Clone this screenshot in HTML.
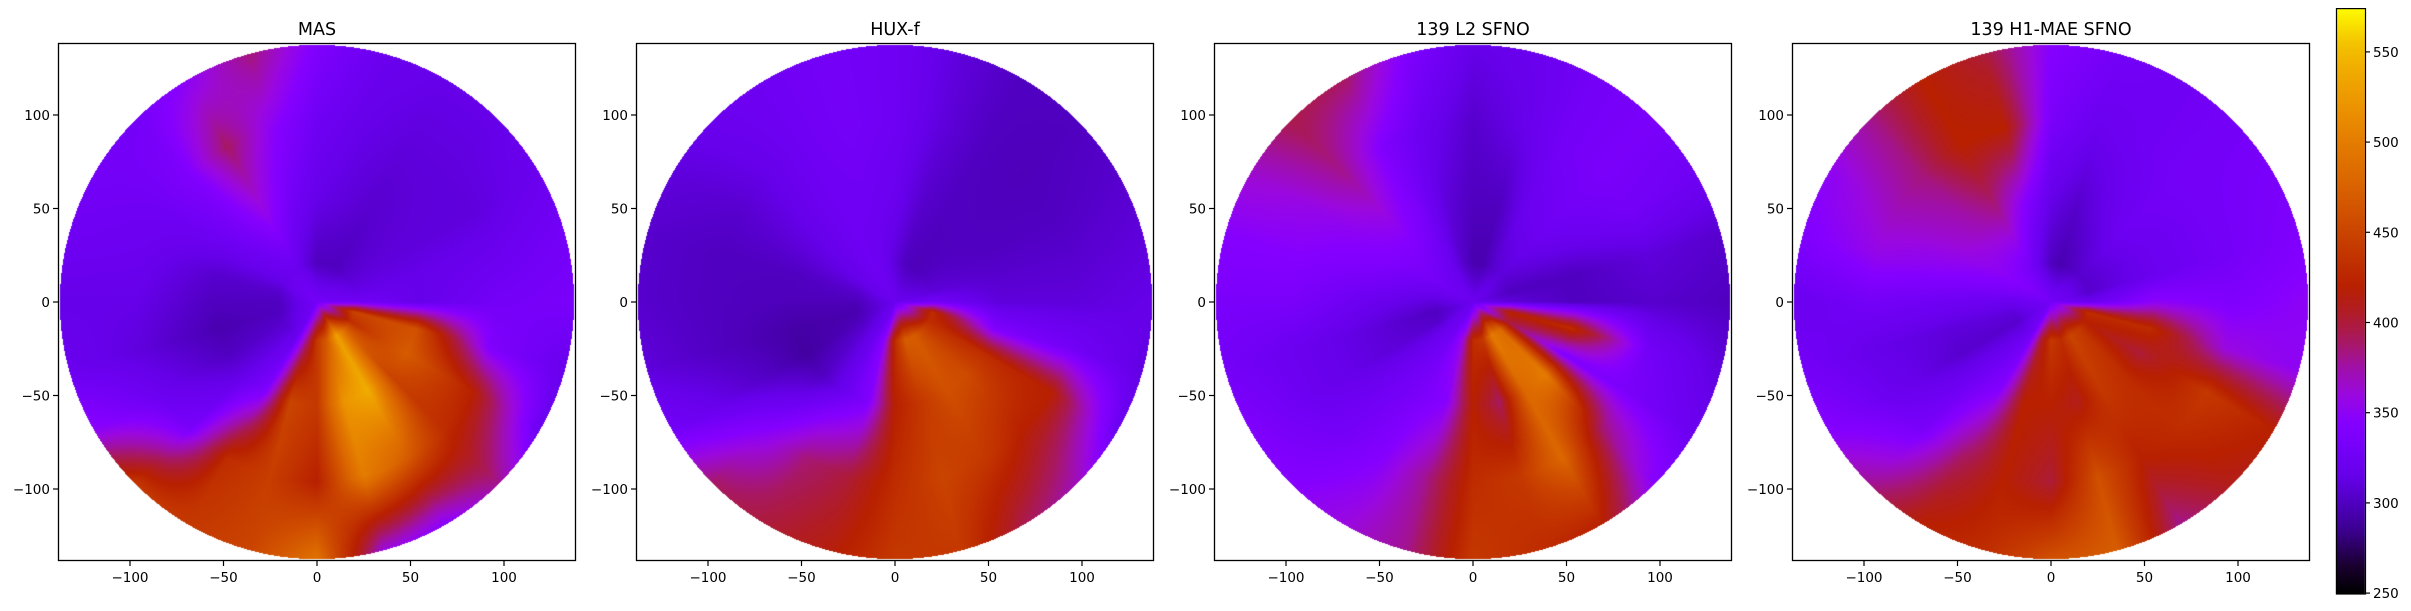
<!DOCTYPE html>
<html><head><meta charset="utf-8">
<style>
html,body{margin:0;padding:0;background:#fff;}
#fig{position:relative;width:2411px;height:611px;overflow:hidden;font-family:"DejaVu Sans","Liberation Sans",sans-serif;}
canvas{position:absolute;left:0;top:0;}
svg{position:absolute;left:0;top:0;}
</style></head>
<body>
<div id="fig">
<canvas id="cv" width="2411" height="611"></canvas>
<svg id="sv" width="2411" height="611"></svg>
</div>
<script>
// ---- data ----
const panelTitles = ["MAS","HUX-f","139 L2 SFNO","139 H1-MAE SFNO"];
const angleDeg = [0,15,30,45,60,75,90,105,120,135,150,165,180,195,210,225,240,255,270,285,300,315,330,345];
const ringFrac = [0.15,0.4,0.7,1.0];
const xTicks = [-100,-50,0,50,100];
const yTicks = [-100,-50,0,50,100];
const cbarTicks = [250,300,350,400,450,500,550];
const centerVals = [330,320,320,330];
const masR1 = [330,315,310,305,300,300,300,310,320,320,315,305,300,300,305,310,320,380,440,470,530,480,430,450];
const masR2 = [315,315,310,308,305,310,315,330,355,335,320,305,300,295,300,315,340,450,440,520,540,450,470,460];
const masR3 = [330,320,310,310,310,315,325,350,390,340,325,320,315,310,320,335,430,445,420,500,470,430,420,340];
const masR4 = [335,330,320,315,315,320,340,385,350,330,330,325,315,320,350,440,440,450,490,360,345,380,320,318];
const huxR1 = [330,310,305,300,298,300,310,320,325,320,315,305,298,295,300,310,320,350,430,470,470,450,430,430];
const huxR2 = [310,305,300,300,300,305,320,325,325,318,310,300,298,292,290,300,320,340,420,440,460,455,430,340];
const huxR3 = [310,305,300,298,300,310,325,330,325,315,305,300,300,300,310,345,385,400,430,450,440,420,420,330];
const huxR4 = [315,310,305,300,300,310,325,330,325,320,310,305,305,310,330,390,400,415,440,440,395,370,320,312];
const l2R1 = [310,300,305,310,305,295,295,305,320,325,330,320,310,300,305,320,330,360,430,440,500,480,400,420];
const l2R2 = [300,300,315,325,320,300,300,310,335,350,345,335,320,310,310,325,335,345,420,390,480,500,340,430];
const l2R3 = [305,310,330,335,330,315,305,320,340,380,355,345,335,320,320,330,345,380,430,440,480,390,335,330];
const l2R4 = [300,305,325,335,330,320,315,340,390,395,365,345,335,330,340,345,360,380,440,430,420,345,320,310];
const h1R1 = [320,305,305,305,300,295,300,315,330,340,345,335,320,310,305,315,330,400,440,430,450,440,420,430];
const h1R2 = [350,320,320,325,315,305,315,345,380,370,360,345,325,310,305,325,345,420,420,410,440,430,400,430];
const h1R3 = [340,330,330,330,325,320,335,420,420,385,370,355,330,315,320,335,390,420,400,460,420,430,440,360];
const h1R4 = [350,340,335,330,325,330,345,400,420,380,350,340,320,330,345,380,420,430,460,470,380,410,420,350];
const panelRings = [[masR1,masR2,masR3,masR4],[huxR1,huxR2,huxR3,huxR4],[l2R1,l2R2,l2R3,l2R4],[h1R1,h1R2,h1R3,h1R4]];
// colormap stops (value, colour) sampled from colorbar
const cmapVals = [250,265,285,300,315,330,345,360,375,390,405,420,440,460,480,500,520,540,555,575];
const cmapCols = ["#000000","#1a0030","#3c0090","#5000c0","#6600ea","#7400f8","#8600ff","#9a08e0","#a010a8","#a81860","#b01c28","#b82000","#c43800","#d05000","#dc6800","#e47c00","#ec9400","#f0ac00","#f4c400","#ffff00"];

// ---- layout ----
const panelLeft = [58,636,1214,1792];
const axTop = 43, axSize = 518, halfRange = 138.5, radius = 137.5;
const pxPerUnit = axSize/(2*halfRange);
const cbX = 2336, cbW = 29, cbTop = 8.6, cbBot = 594, vMin = 249.5, vMax = 574;

function hex(c){return [parseInt(c.substr(1,2),16),parseInt(c.substr(3,2),16),parseInt(c.substr(5,2),16)];}
const cmapRGB = cmapCols.map(hex);
function cmap(v){
  if(v<=cmapVals[0]) return cmapRGB[0];
  for(let i=1;i<cmapVals.length;i++){
    if(v<=cmapVals[i]){const t=(v-cmapVals[i-1])/(cmapVals[i]-cmapVals[i-1]);const a=cmapRGB[i-1],b=cmapRGB[i];
      return [a[0]+(b[0]-a[0])*t,a[1]+(b[1]-a[1])*t,a[2]+(b[2]-a[2])*t];}
  }
  return cmapRGB[cmapRGB.length-1];
}
function fieldValue(p, rf, th){
  const rings = panelRings[p];
  const n = angleDeg.length, step = 360/n;
  const fi = th/step; const i0 = Math.floor(fi)%n, i1=(i0+1)%n, ta = fi-Math.floor(fi);
  const ringVal = k => rings[k][i0]*(1-ta)+rings[k][i1]*ta;
  if(rf<=ringFrac[0]){const t=rf/ringFrac[0];return centerVals[p]*(1-t)+ringVal(0)*t;}
  for(let k=1;k<ringFrac.length;k++){
    if(rf<=ringFrac[k]){const t=(rf-ringFrac[k-1])/(ringFrac[k]-ringFrac[k-1]);return ringVal(k-1)*(1-t)+ringVal(k)*t;}
  }
  return ringVal(ringFrac.length-1);
}
const cv = document.getElementById('cv'); const ctx = cv.getContext('2d');
const img = ctx.createImageData(2411,611); const d = img.data;
for(let i=0;i<d.length;i+=4){d[i]=255;d[i+1]=255;d[i+2]=255;d[i+3]=255;}
for(let p=0;p<4;p++){
  const cx = panelLeft[p]+axSize/2, cy = axTop+axSize/2;
  for(let y=axTop;y<axTop+axSize;y++){
    for(let x=panelLeft[p];x<panelLeft[p]+axSize;x++){
      const ux=(x+0.5-cx)/pxPerUnit, uy=(cy-(y+0.5))/pxPerUnit;
      const r=Math.sqrt(ux*ux+uy*uy); if(r>radius) continue;
      let th=Math.atan2(uy,ux)*180/Math.PI; if(th<0) th+=360;
      const c=cmap(fieldValue(p,r/radius,th));
      const o=(y*2411+x)*4; d[o]=c[0];d[o+1]=c[1];d[o+2]=c[2];
    }
  }
}
// colorbar
for(let y=Math.round(cbTop);y<cbBot;y++){
  const v = vMax-(y+0.5-cbTop)/(cbBot-cbTop)*(vMax-vMin);
  const c=cmap(v);
  for(let x=cbX;x<cbX+cbW;x++){const o=(y*2411+x)*4;d[o]=c[0];d[o+1]=c[1];d[o+2]=c[2];}
}
ctx.putImageData(img,0,0);

// ---- axes (SVG) ----
const NS="http://www.w3.org/2000/svg"; const sv=document.getElementById('sv');
function mk(tag,attrs,parent){const e=document.createElementNS(NS,tag);for(const k in attrs)e.setAttribute(k,attrs[k]);(parent||sv).appendChild(e);return e;}
function fmt(v){return v<0?"\u2212"+(-v):String(v);}
for(let p=0;p<4;p++){
  const g=mk('g',{});
  
  
  const L=panelLeft[p], cx=L+axSize/2, cy=axTop+axSize/2;
  const fr=mk('rect',{x:L+0.5,y:axTop+0.5,width:axSize-1,height:axSize-1,fill:'none',stroke:'#000','stroke-width':1.3},g);
  
  
  const t=mk('text',{x:cx,y:35,'text-anchor':'middle','font-size':17.5,fill:'#000'},g);
  t.textContent=panelTitles[p];
  
  
  xTicks.forEach(v=>{
    const x=cx+v*pxPerUnit;
    const tk=mk('line',{x1:x,x2:x,y1:axTop+axSize,y2:axTop+axSize+5,stroke:'#000','stroke-width':1.2},g);
    
    
    const lb=mk('text',{x:x,y:582,'text-anchor':'middle','font-size':13.5,fill:'#000'},g);
    lb.textContent=fmt(v);
    
    
  });
  yTicks.forEach(v=>{
    const y=cy-v*pxPerUnit;
    const tk=mk('line',{x1:L-5,x2:L,y1:y,y2:y,stroke:'#000','stroke-width':1.2},g);
    
    
    const lb=mk('text',{x:L-8,y:y+5,'text-anchor':'end','font-size':13.5,fill:'#000'},g);
    lb.textContent=fmt(v);
    
    
  });
}
const cg=mk('g',{});


const cbf=mk('rect',{x:cbX+0.5,y:cbTop,width:cbW,height:cbBot-cbTop,fill:'none',stroke:'#000','stroke-width':1.2},cg);


cbarTicks.forEach(v=>{
  const y=cbBot-(v-vMin)/(vMax-vMin)*(cbBot-cbTop);
  const tk=mk('line',{x1:cbX+cbW,x2:cbX+cbW+5,y1:y,y2:y,stroke:'#000','stroke-width':1.2},cg);
  
  
  const lb=mk('text',{x:cbX+cbW+8,y:y+5,'font-size':13.5,fill:'#000'},cg);
  lb.textContent=String(v);
  
  
});
</script>
</body></html>
